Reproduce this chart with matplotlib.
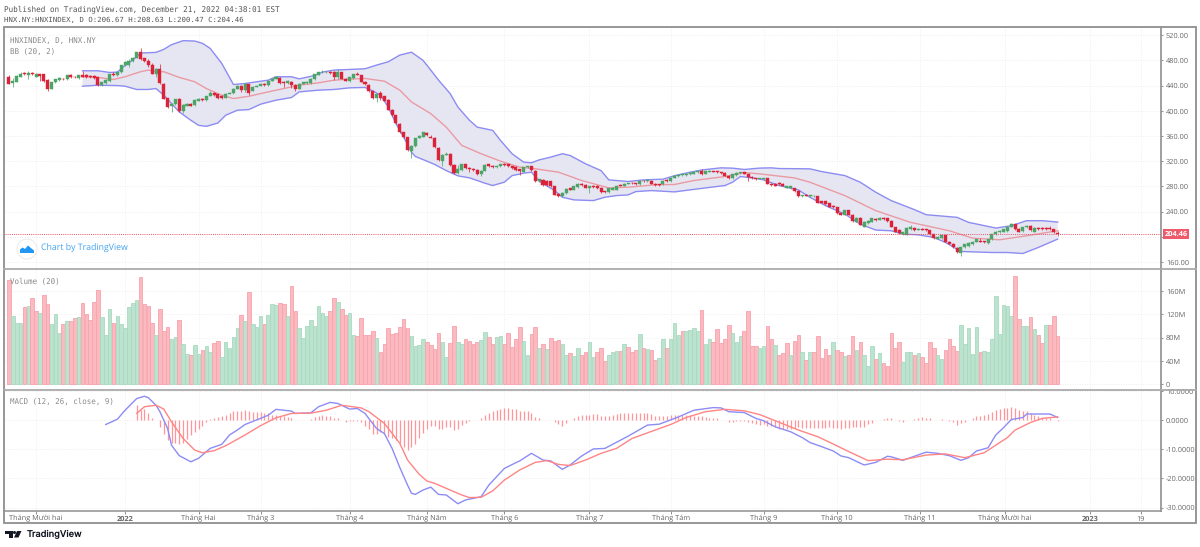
import matplotlib
matplotlib.use('Agg')
import matplotlib.pyplot as plt
from matplotlib.patches import Circle, Polygon, Rectangle
import numpy as np

plt.rcParams['text.hinting'] = 'no_hinting'

## candles, one row per ten bars
opens = [454,444,446,454,460,457,460,454,458,458,
    449,435,445,449,451,450,456,454,452,456,
    456,455,455,453,441,444,447,459,456,461,
    472,472,479,484,493,483,479,473,459,466,
    443,420,407,410,419,399,408,411,409,416,
    418,417,424,428,426,424,421,427,428,435,
    440,433,442,432,438,440,443,441,448,451,
    452,446,444,446,441,435,443,444,444,450,
    457,461,461,462,461,453,461,451,448,452,
    459,456,446,441,431,420,429,423,417,402,
    393,379,366,358,336,344,357,359,364,359,
    357,341,321,330,332,314,301,306,315,309,
    308,306,299,305,315,313,310,312,316,315,
    312,311,307,303,310,312,305,288,290,289,
    288,280,268,264,269,277,275,279,284,282,
    278,281,281,278,272,271,275,275,282,281,
    284,286,285,283,289,288,289,284,283,283,
    290,288,294,296,298,298,299,300,302,304,
    300,303,304,304,302,301,297,293,298,301,
    302,299,295,293,292,291,293,284,284,285,
    284,278,277,277,273,264,266,264,264,264,
    256,256,253,249,247,238,235,242,235,224,
    230,216,222,224,228,227,230,229,225,215,
    211,204,203,212,214,211,213,212,210,204,
    197,198,202,192,189,182,174,183,185,188,
    192,194,193,190,196,204,207,208,209,216,
    220,213,209,215,217,208,214,214,214,214,212,206.67]
closes = [443,447,455,459,458,460,458,458,455,447,
    434,445,450,452,450,456,453,453,456,454,
    453,453,452,441,445,449,458,456,461,472,
    477,479,484,493,482,479,472,459,466,444,
    419,406,411,418,399,409,411,408,417,419,
    417,423,429,425,420,420,427,429,435,440,
    433,442,429,438,440,443,441,448,451,453,
    444,444,448,441,435,443,445,446,451,458,
    461,462,462,460,453,461,451,448,453,458,
    457,446,442,431,420,426,421,416,402,393,
    380,366,358,337,344,356,360,366,361,357,
    342,322,330,332,314,301,307,315,309,307,
    306,299,305,314,312,310,313,315,314,312,
    309,306,304,310,312,306,288,291,282,282,
    280,267,264,270,276,275,280,284,282,278,
    280,279,277,271,271,277,278,281,281,284,
    285,285,283,289,288,290,284,282,282,289,
    288,294,297,298,299,300,301,302,304,299,
    304,305,303,302,301,297,293,299,301,302,
    300,295,293,291,293,293,284,282,281,283,
    281,280,280,272,264,266,265,266,265,254,
    254,252,248,247,237,235,242,235,225,230,
    219,224,225,229,226,230,228,225,216,208,
    206,207,214,215,210,213,211,210,204,198,
    200,202,192,189,183,175,183,188,190,192,
    196,192,191,196,204,208,209,212,216,220,
    212,208,215,217,210,214,212,212,212,212,207,204.46]
highs = [456,452,456,461,461,463,461,460,459,459,
    450,446,451,453,452,457,458,455,457,463,
    458,457,456,454,446,450,459,461,462,473,
    479,482,485,494,499,484,482,476,468,475,
    444,421,413,419,420,410,413,412,418,421,
    420,424,431,430,427,425,428,430,436,441,
    441,444,443,439,441,444,444,449,452,455,
    453,447,449,447,442,444,446,447,452,459,
    462,464,463,463,463,466,462,452,454,459,
    461,457,447,442,432,427,431,424,418,403,
    394,381,367,359,345,357,361,367,366,361,
    358,342,331,335,333,315,314,316,316,310,
    309,307,306,315,316,314,314,316,317,316,
    313,312,308,311,313,313,306,292,291,290,
    289,281,269,271,277,278,281,285,286,283,
    281,282,282,279,273,278,279,282,283,285,
    286,287,286,290,290,291,290,285,284,290,
    291,295,298,299,300,301,302,303,305,307,
    305,306,305,305,303,302,298,300,302,303,
    303,300,296,294,294,294,294,285,285,287,
    285,281,281,278,274,267,268,267,267,265,
    257,257,254,250,248,239,243,243,236,231,
    231,225,226,230,229,231,231,230,226,216,
    212,208,215,219,215,214,214,213,211,205,
    201,203,203,193,190,183,184,189,191,193,
    197,198,194,197,205,209,210,213,217,222,
    221,214,216,218,218,215,216,216,216,217,213,208.63]
lows = [442,438,445,453,456,450,456,453,447,446,
    432,434,444,448,449,449,452,452,451,453,
    452,452,451,440,439,443,446,455,455,460,
    471,470,478,483,481,477,470,458,453,443,
    418,405,398,409,398,396,407,407,408,415,
    416,416,423,424,419,419,420,426,427,434,
    430,430,425,431,437,439,440,440,447,450,
    443,438,443,436,432,434,442,443,443,449,
    456,460,460,459,449,451,450,447,446,451,
    456,445,441,430,419,414,417,415,401,392,
    379,365,357,336,325,343,356,358,360,356,
    341,320,312,329,313,300,300,305,308,302,
    305,298,297,304,311,309,309,311,313,311,
    308,305,298,302,309,305,287,287,281,281,
    279,266,263,263,268,274,274,278,281,277,
    270,278,276,270,269,270,274,274,280,280,
    283,284,282,282,287,287,283,281,281,282,
    287,287,293,295,297,297,298,299,301,298,
    299,302,302,301,300,296,292,292,297,300,
    299,289,292,290,291,290,283,281,280,282,
    280,277,276,271,263,263,264,263,263,253,
    253,251,247,246,236,234,234,234,224,223,
    218,215,221,223,225,226,227,224,215,207,
    205,203,202,211,209,210,210,209,203,197,
    196,197,191,188,182,174,169,182,184,187,
    191,191,190,189,195,203,206,207,208,215,
    211,207,208,214,209,207,211,211,211,211,206,200.47]
last_close = 204.46

## bollinger bands
upper_bars = [19,23,26,28,30,32,34,38,40,42,45,48,50,52,55,58,61,64,67,69,73,75,79,81,84,88,92,95,98,101,
    104,107,109,111,114,116,119,121,125,127,130,133,135,137,140,143,145,149,153,155,160,164,169,172,176,179,184,187,190,194,
    197,199,207,210,216,220,224,228,234,237,245,248,255,259,263,267,271]
upper = [463.5,463.5,460.8,461.4,472,480.5,491.6,492.7,497.5,504.9,511.3,510.7,507,499,475,441.7,443.3,446,448.6,454,454,450.7,456,461.4,464.6,465.6,466.7,472.5,477.8,488.4,
    493,480,464.5,448.6,427.3,406,384.8,374,368.9,353,331.8,318.5,317.4,322,326.4,331.8,329,315.8,305,290.3,287.7,290.3,291.4,297,302.5,306,309.4,308.9,306.8,309,
    309.4,308.3,307.8,303.5,297.1,286.5,270.6,257.3,243,235,230.8,222.8,213.8,217.5,225.5,225.5,223.3]
lower_bars = [19,23,28,30,33,36,38,40,42,44,47,49,51,54,56,59,62,65,69,73,75,80,84,88,92,94,96,98,100,102,
    104,105,108,110,113,116,119,123,125,128,130,133,135,137,141,143,146,151,154,157,160,162,166,172,178,185,187,189,192,
    195,199,204,207,211,216,220,224,228,231,235,239,242,246,254,258,262,266,268,271]
lower = [439,440.6,440,439,433.8,433.8,435.3,424.7,411.5,398.2,384.9,376.9,375.3,380.6,392.9,400.8,401.9,410.4,416.8,421,430,432.7,433.8,436.4,437,431.6,424.7,406,379.5,358,
    334.4,327.5,320,314.8,305,296.7,293.5,285,281.3,286.6,297,300.9,302.5,288.2,273.3,262.7,258.5,257.4,262.7,265.4,266.4,271.7,273.3,271.2,276,281.3,286.6,295.6,293.5,
    290.3,281.3,274.3,262.6,249.4,236,220,210.6,209.5,204.2,203,198.9,191,176.6,175,175,173.4,183,188.3,196.3]
basis_bars = [19,23,27,30,34,36,38,40,44,48,51,55,58,62,67,71,75,80,84,88,92,97,101,104,109,113,117,122,127,132,
    136,142,148,155,160,167,172,177,185,190,194,203,207,216,224,233,243,249,256,263,271]
basis = [454,452.9,449.7,454,462,464.6,462,462,453,446,435.3,424.7,419.4,423,430,435.3,440.6,444.4,448.6,450.2,451.3,447,432.7,414,395.5,374,345,331.8,320,310.5,
    307.9,302.5,289.3,277.6,278.7,282.4,283,289.3,295.6,302,299.8,293.4,286.5,265.3,241.4,222.8,209.5,197.8,195.2,201.6,209.5]

## volume in millions, and p / g colour for each bar
volume = [179,117,106,106,133,134,148,126,123,153,
    138,104,120,88,103,108,108,113,115,140,
    120,110,142,161,115,85,129,106,117,103,
    97,132,139,144,185,137,135,106,85,130,
    91,98,78,81,110,69,52,51,67.5,52.5,
    59,65,56,71,74,47,72,62,81,97,
    119,108,158,104,97.5,117,104,119,137,136,
    139,138,118,168,125,97,80,100,110,100,
    134,122,117,126,148,141,130,119,122,84,
    82,114,85,84,92,80,56,69,97,87,
    88,99,112.5,96,83,66,68,77,72,67.5,
    60.6,88,73,46,71,100,73,69,77,74,
    69,73,76,90,81,69,81,83,69,88,
    64,78.5,99,75,50,86.5,97.5,62,68.7,60.6,
    80,74,75.6,68.7,50,53.7,48.5,63,50,55.4,
    73,47,55.4,62,40,50,56,57,57,68.7,
    64,56,59.4,86.5,62,60.6,59,41.5,45,78,
    62,78.5,105.6,84,91,90.6,93.5,97,92,128,
    68.7,78,73,94.6,71,78,102,88,73,83,
    91,126,66,66,62,66,100,78.5,68,51,
    53.7,71,50,75,85,56,41,56,55.4,82,
    45,60.6,50,73,59.4,55.4,49,51,83,59.4,
    73,51,32,66,43,54,37,32,88,63,
    73,38,55,55,50,53,47,37,72,62,
    50,44,59,78,66,57,101,69,97,52.5,
    98.7,56,57,56,77,151,87,136,134,118,
    186,112.5,100,100,115,95,85,71,101,101,116.5,83.7]
volume_colours = ('pgggpgppgp' 'pgggpgppgp' 'ppppgggpgg' 'ggggppppgp' 'ppggpggpgg'
    'pggppggggg' 'pgpgggpggg' 'ppgppggggg' 'gggppgppgg' 'pppppgpppp'
    'ppppggggpp' 'ppggppggpp' 'ppggppggpp' 'pppggppgpg' 'pppggpggpp'
    'ggpppgggpg' 'pppgpgppgg' 'pgggpggggp' 'ggpppppggg' 'ppppggppgp'
    'ppgppgpgpp' 'pppgppgppg' 'pgggpgpppp' 'pgggpgpppp' 'ggppppgggg'
    'gpgggggggg' 'ppggpgppgppp')

## macd
macd_bars = [25,28,30,33,35,36,38,39,41,42,44,47,49,52,55,57,59,61,65,67,
    69,73,74,78,80,83,85,88,90,92,95,97,99,101,103,104,105,107,109,111,
    113,116,118,122,124,128,131,132,135,138,140,143,145,148,151,154,160,165,168,173,
    177,182,184,186,190,193,195,198,202,205,207,210,213,215,217,220,221,224,227,228,
    231,234,237,240,243,246,248,250,253,255,257,259,262,263,269,271]
macd = [-1.5,.3,3.4,7.4,8.2,7.7,5.1,2.9,-2.9,-8.6,-12.2,-14.3,-13.1,-9.7,-8.3,-5.1,-3.4,-1.5,.6,1.7,
    3.7,3.1,2.3,2.5,4.6,6.1,5.7,3.8,4,2.3,-2.9,-4.6,-9.7,-16.3,-22.3,-25.1,-25.5,-24,-23,-25.5,
    -25.7,-28.7,-27.4,-26.3,-22.3,-16.6,-14.6,-14,-11.4,-13.7,-14,-16.9,-15.4,-12.3,-9.9,-9.7,-5.5,-1.7,-1.4,1.1,
    3.4,4.3,4.2,2.9,2.6,.6,-.2,-2.3,-4,-6,-7.7,-9.1,-10.6,-12.3,-12.9,-14.8,-15.4,-14.5,-12.4,-12.6,
    -13.8,-12.4,-11,-11.4,-12.2,-13.8,-12.9,-10.6,-9.5,-5.1,-2.6,.2,.9,2.1,2.1,.9]
signal_bars = [33,35,38,40,42,45,48,50,53,56,61,65,69,73,78,82,86,91,93,97,
    101,103,106,108,110,114,117,119,122,125,128,132,136,139,142,145,149,153,157,161,
    167,171,175,180,185,190,194,198,204,209,213,217,222,227,231,237,242,247,252,255,
    258,260,264,267,271]
signal = [2.3,4.6,5.1,3.8,-.6,-6.3,-10.3,-11.2,-10.5,-8.8,-5.1,-1.9,.8,2.3,2.4,3.4,5.1,4.2,2.9,-1.1,
    -8,-13.7,-18.6,-20.9,-21.7,-24,-25.7,-26.6,-26.5,-24.3,-20.6,-17.1,-14.5,-13.9,-15.2,-15.6,-13.7,-11.4,-9.7,-6.3,
    -3.4,-1.5,.9,2.9,3.7,3.2,1.9,-.2,-3.4,-5.7,-8.2,-10.8,-13.9,-13.4,-13.6,-12,-11.6,-12.9,-11.2,-8.6,
    -6,-3.4,-.8,.6,1.1]
hist_start = 33
hist = [5.1,3.4,3.8,2.3,.6,0,-2.3,-4.9,-6.9,-7.7,-7.7,-8.3,-8,-6.5,-5.1,-4,-3.1,-1.9,-.6,.3,
    .8,1,1.4,1.9,2.4,3.1,3.3,3.3,3.4,3.1,2.9,2.8,2.9,2.6,2.4,1.9,1.7,1.5,1.4,1.1,
    .9,.2,-.1,.1,.1,.3,1,1.5,1.7,1.5,1.3,.9,.6,.1,-.6,-.4,-.4,-.4,-.8,-1.9,
    -3.1,-4.6,-4.6,-4.2,-4.9,-5.7,-6.3,-6.9,
    -8,-9.1,-10.3,-9.1,-8.3,-6.3,-4.3,-2.9,-2.1,-1.9,-3.1,-3.1,-2.5,-2.5,-3.4,-3.1,-1.7,-.9,-.3,.1,
    0,.8,1.7,2.6,3.1,3.5,3.9,4.3,4,3.8,3.7,3.2,3.1,3.3,2.6,1.1,.6,-.1,-.1,0,
    -.8,-1.5,-1.9,-1.1,-.1,.6,1.3,1.7,1.9,1.9,2,2,1.5,1.5,1.5,1.7,2.2,2.4,2.5,2.5,
    2.6,2.6,2.6,2.6,2.6,2.1,1.5,1.4,1.4,1.5,1.6,1.9,1.9,1.7,1.7,1.6,1.5,1.4,1.4,1,
    .9,.8,.6,.2,0,-.6,-.5,-.3,-.2,-.2,-.6,-.9,-1.5,-1.7,-1.5,-1.9,-2.1,-2.5,-2.9,-2.9,
    -3.2,-3.2,-2.6,-2.4,
    -2.6,-2.6,-2.7,-2.6,-2.6,-2.6,-2.7,-2.5,-2.6,-2.6,
    -3.1,-2.6,-2.6,-2.4,-2.5,-2.3,-2.3,-1.5,-1,-.1,
    .2,.5,.6,.6,0,-.3,-.6,0,.2,.3,
    .8,1,.9,.6,.2,.2,.3,0,-.3,-.7,
    -1.6,-1,-.6,.1,.8,1.3,1.4,1.7,2.1,2.9,
    3.4,3.9,4.1,4.3,4.6,4.1,3.4,3.1,3.1,2.3,
    1.7,1.4,.9,.7,.6,.1,-.3]

## axis labels
price_ticks = [160,200,240,280,320,360,400,440,480,520]
volume_ticks = [0,40,80,120,160]
macd_ticks = [10,0,-10,-20,-30]
month_pos = [7,30,49,65,88,108,128,150,171,195,214,235.4,257.4,279.3,292.5]
month_labels = ['Tháng Mười hai','2022','Tháng Hai','Tháng 3','Tháng 4','Tháng Năm','Tháng 6','Tháng 7',
    'Tháng Tám','Tháng 9','Tháng 10','Tháng 11','Tháng Mười hai','2023','19']

W, H = 1200, 547
GREEN = '#4BA567'
RED = '#DC2238'
FRAME = '#8f8f8f'
GRID = '#efefef'
TICK = '#666666'
TICKFONT = 'Open Sans'
TICKSIZE = 5.3
MONO = 'DejaVu Sans Mono'

fig = plt.figure(figsize=(W/100, H/100), dpi=100, facecolor='white')

def pane(left, top, right, bottom):
    return fig.add_axes([left/W, 1-bottom/H, (right-left)/W, (bottom-top)/H])

ax_price = pane(5, 28, 1161, 269)
ax_vol = pane(5, 270, 1161, 390)
ax_macd = pane(5, 391, 1161, 511)

for ax in (ax_price, ax_vol, ax_macd):
    ax.set_xlim(-1.03, 297.7)
    ax.set_xticks(month_pos)
    ax.grid(True, color=GRID, lw=.7, ls=(0, (1, 1.5)))
    ax.set_axisbelow(True)
    ax.yaxis.tick_right()
    for s in ('left', 'top', 'bottom'):
        ax.spines[s].set_visible(False)
    ax.spines['right'].set_color(FRAME)
    ax.spines['right'].set_linewidth(1.2)
    ax.tick_params(axis='y', length=1.5, width=.7, color=FRAME, labelcolor=TICK, labelsize=TICKSIZE, pad=2)
    ax.tick_params(axis='x', length=0, labelbottom=False)

## price pane
bars = np.arange(len(closes))
o, c, hi, lo = map(np.array, (opens, closes, highs, lows))
cols = np.where(c >= o, GREEN, RED)
ax_price.fill(list(upper_bars) + list(lower_bars[::-1]), list(upper) + list(lower[::-1]), color='#E6E6F2', lw=0, zorder=1)
ax_price.plot(upper_bars, upper, color='#8C8CF2', lw=1, zorder=2)
ax_price.plot(lower_bars, lower, color='#8C8CF2', lw=1, zorder=2)
ax_price.plot(basis_bars, basis, color='#EA9AA2', lw=1, zorder=2)
ax_price.vlines(bars, lo, hi, colors=cols, lw=.7, alpha=.75, zorder=3)
ax_price.bar(bars, np.maximum(np.abs(c-o), .8), bottom=np.minimum(o, c), width=.78, color=cols, edgecolor=cols, lw=.3, zorder=4)
ax_price.axhline(last_close, color='#E8505F', lw=.7, ls=(0, (1, 1.2)), zorder=5)
ax_price.set_ylim(148.8, 531.4)
ax_price.set_yticks(price_ticks)
# the 200.00 label sits under the last price tag
ax_price.set_yticklabels(['' if v == 200 else '%.2f' % v for v in price_ticks], fontfamily=TICKFONT)

## volume pane
vcols = ['#FBB9C0' if k == 'p' else '#BCE3CF' for k in volume_colours]
vedge = ['#F7A3AD' if k == 'p' else '#A9DABF' for k in volume_colours]
ax_vol.bar(np.arange(len(volume)), volume, width=.92, color=vcols, edgecolor=vedge, lw=.6, zorder=3)
ax_vol.set_ylim(-9.9, 196.2)
ax_vol.set_yticks(volume_ticks)
ax_vol.set_yticklabels(['%dM' % v if v else '0' for v in volume_ticks], fontfamily=TICKFONT)

## macd pane
ax_macd.vlines(np.arange(hist_start, hist_start+len(hist)), 0, hist, colors='#FF959B', lw=.9, zorder=3)
ax_macd.plot(macd_bars, macd, color='#8C8CF5', lw=1, zorder=4)
ax_macd.plot(signal_bars, signal, color='#FF8585', lw=1, zorder=5)
ax_macd.set_ylim(-31.2, 9.93)
ax_macd.set_yticks(macd_ticks)
ax_macd.set_yticklabels(['%.4f' % v for v in macd_ticks], fontfamily=TICKFONT)
ax_macd.tick_params(axis='x', length=2, width=.7, color=FRAME, labelbottom=True, labelcolor=TICK, labelsize=TICKSIZE, pad=1)
ax_macd.set_xticklabels(month_labels, fontfamily=TICKFONT)
for lab in ax_macd.get_xticklabels():
    if lab.get_text() in ('2022', '2023'):
        lab.set_fontweight('bold')

## everything around the panes, drawn in pixel coordinates
over = fig.add_axes([0, 0, 1, 1], facecolor='none', zorder=10)
over.set_xlim(0, W)
over.set_ylim(H, 0)
over.axis('off')
over.add_patch(Rectangle((4, 27), 1192, 496, fill=False, ec=FRAME, lw=1.3))
for y in (269, 390):
    over.plot([4, 1196], [y, y], color='#aaaaaa', lw=1.3)
over.plot([4, 1161], [511, 511], color=FRAME, lw=1.1)

over.text(4, 9, 'Published on TradingView.com, December 21, 2022 04:38:01 EST', family=MONO, fontsize=5.5, color='#555555', va='center')
over.text(4, 20, 'HNX.NY:HNXINDEX, D O:206.67 H:208.63 L:200.47 C:204.46', family=MONO, fontsize=5.3, color='#555555', va='center')
over.text(10, 40.5, 'HNXINDEX, D, HNX.NY', family=MONO, fontsize=5.45, color='#8a8a8a', va='center')
over.text(10, 51.5, 'BB (20, 2)', family=MONO, fontsize=5.45, color='#8a8a8a', va='center')
over.text(10, 281.5, 'Volume (20)', family=MONO, fontsize=5.45, color='#8a8a8a', va='center')
over.text(10, 402, 'MACD (12, 26, close, 9)', family=MONO, fontsize=5.45, color='#8a8a8a', va='center')

# last price tag
over.add_patch(Rectangle((1162.5, 228.5), 26.5, 10.5, color='#EF5A6B', lw=0))
over.text(1175.8, 233.8, '204.46', color='white', fontsize=TICKSIZE, fontweight='bold', family=TICKFONT, ha='center', va='center')

# chart by tradingview badge
over.add_patch(Circle((27, 249), 10, fc='white', ec='#ececec', lw=.8))
over.add_patch(Polygon([(20, 253), (20, 249.5), (22.5, 247.5), (25, 249), (28, 245.5), (31.5, 248.5), (34, 250.5), (34, 253)], color='#2196F3', lw=0))
over.text(41, 248.5, 'Chart by TradingView', color='#41A3F0', family=TICKFONT, fontsize=6.3, va='center')

# tradingview logo
over.add_patch(Polygon([(5, 531), (12.5, 531), (12.5, 537.5), (9, 537.5), (9, 534), (5, 534)], color='#131722', lw=0))
over.add_patch(Circle((14.5, 532.5), 1.5, color='#131722', lw=0))
over.add_patch(Polygon([(17, 531), (21.5, 531), (18.5, 537.5), (14, 537.5)], color='#131722', lw=0))
over.text(27, 534.5, 'TradingView', color='#131722', family='Inter', fontsize=6.6, fontweight='medium', va='center')

fig.savefig('out.png', dpi=100, facecolor='white')
